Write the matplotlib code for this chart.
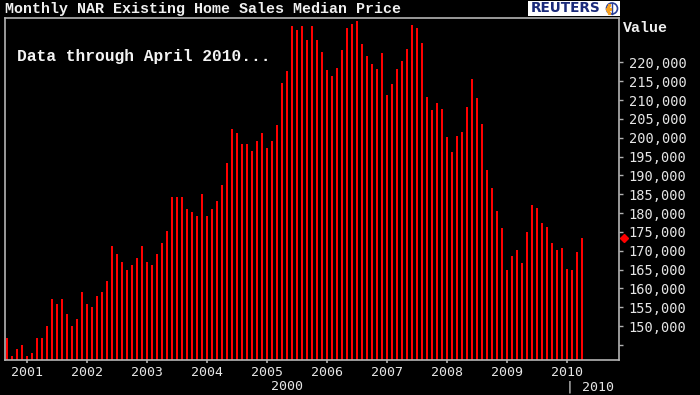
import matplotlib
matplotlib.use("Agg")
import matplotlib.pyplot as plt
import matplotlib.transforms as mtransforms
from matplotlib.patches import Rectangle, Circle

# ---------------- data ----------------
start_year, start_month = 2000, 9          # first bar: Sep 2000
prices = [
    146900, 142000, 143900, 144900,                                   # 2000 Sep-Dec
    142000, 142800, 146900, 146900, 150000, 157200, 155900, 157200,   # 2001
    153100, 150000, 151900, 159000,
    155900, 155000, 158100, 159000, 162100, 171300, 169100, 167100,   # 2002
    165000, 166200, 168100, 171300,
    167100, 166200, 169100, 172100, 175200, 184300, 184300, 184300,   # 2003
    181200, 180200, 179200, 185200,
    179200, 181200, 183300, 187400, 193300, 202300, 201400, 198400,   # 2004
    198400, 196500, 199200, 201400,
    197400, 199200, 203400, 214600, 217600, 229600, 228700, 229600,   # 2005
    225900, 229600, 225900, 222700,
    218000, 216400, 218400, 223200, 229200, 230100, 231100, 224800,   # 2006
    221600, 219500, 218200, 222500,
    211400, 214300, 218200, 220300, 223500, 229900, 229200, 225100,   # 2007
    210900, 207400, 209300, 207700,
    200200, 196200, 200500, 201600, 208300, 215500, 210500, 203600,   # 2008
    191500, 186700, 180500, 176100,
    164900, 168500, 170200, 166700, 175000, 182200, 181400, 177400,   # 2009
    176200, 172100, 170200, 170700,
    165100, 164900, 169700, 173400,                                   # 2010 Jan-Apr
]
year_labels = ["2001", "2002", "2003", "2004", "2005",
               "2006", "2007", "2008", "2009", "2010"]
ytick_values = list(range(145000, 225000, 5000))
title = "Monthly NAR Existing Home Sales Median Price"
note = "Data through April 2010..."

# ---------------- figure ----------------
W, H = 700, 395
fig = plt.figure(figsize=(W / 100, H / 100), dpi=100, facecolor="black")

def fx(px):
    return px / W

def fy(py):
    return 1 - py / H

ax = fig.add_axes([fx(5), fy(360), fx(614), 342 / H])
ax.set_facecolor("black")

x = list(range(len(prices)))
ax.bar(x, prices, width=0.38, color="#ff0000", linewidth=0)

ax.set_xlim(-0.34, 122.46)
ax.set_ylim(141000, 231800)

# x ticks at January of each year
xticks = [(int(y) - start_year) * 12 - (start_month - 1) for y in year_labels]
ax.set_xticks(xticks)
ax.set_xticklabels(year_labels)

ax.yaxis.tick_right()
ax.set_yticks(ytick_values)
ax.set_yticklabels(["" if v == 145000 else f"{v:,}" for v in ytick_values])

tick_font = "DejaVu Sans Mono"
ax.tick_params(axis="y", colors="#b0b0b0", labelcolor="#e6e6e6",
               length=3, width=1, pad=4, labelsize=9.8)
ax.tick_params(axis="x", colors="#b0b0b0", labelcolor="#e6e6e6",
               length=2, width=1.2, pad=2, labelsize=9.5)
for lbl in ax.get_xticklabels() + ax.get_yticklabels():
    lbl.set_fontfamily(tick_font)

for s in ax.spines.values():
    s.set_color("#b4b4b4")
    s.set_linewidth(1.2)

# latest-value marker on the right axis
blend = mtransforms.blended_transform_factory(ax.transAxes, ax.transData)
ax.plot([1 + 5 / 614], [prices[-1]], marker="D", color="#ff0000",
        markersize=4.5, transform=blend, clip_on=False, linestyle="none")

# ---------------- texts ----------------
fig.text(fx(5), fy(9), title, ha="left", va="center",
         family="Liberation Mono", fontsize=10.8, color="#f0f0f0",
         weight="bold")
fig.text(fx(623), fy(28), "Value", ha="left", va="center",
         family="Liberation Mono", fontsize=10.8, color="#f0f0f0",
         weight="bold")
fig.text(fx(17), fy(56), note, ha="left", va="center",
         family="Liberation Mono", fontsize=11.7, color="#f4f4f4",
         weight="bold")
fig.text(fx(287), fy(387), "2000", ha="center", va="center",
         family=tick_font, fontsize=9.5, color="#e6e6e6")
fig.text(fx(566), fy(387), "| 2010", ha="left", va="center",
         family=tick_font, fontsize=9.5, color="#e6e6e6")

# ---------------- Reuters logo ----------------
lax = fig.add_axes([fx(528), fy(16), fx(92), 15 / H])
lax.set_xlim(0, 92)
lax.set_ylim(0, 15)
lax.axis("off")
lax.add_patch(Rectangle((0, 0), 92, 15, facecolor="white", edgecolor="none"))
lax.text(3, 7.5, "REUTERS", ha="left", va="center", color="#1b2a7a",
         family="DejaVu Sans", weight="bold", fontsize=9.8)
lax.add_patch(Circle((84, 7.5), 5.5, facecolor="none",
                     edgecolor="#2a3f9a", linewidth=1.2))
lax.plot([84, 84], [2, 13], color="#2a3f9a", linewidth=1.0)
for dx, dy in [(-4, 2), (-4, -2), (-5.5, 0), (-3, 4), (-3, -4), (-2, 0)]:
    lax.plot([84 + dx], [7.5 + dy], marker="s", markersize=1.3,
             color="#f5a020", linestyle="none")

fig.savefig("out.png", dpi=100, facecolor="black")
